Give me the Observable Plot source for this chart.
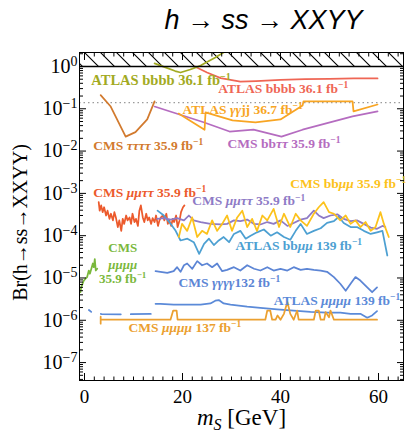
<!DOCTYPE html>
<html><head><meta charset="utf-8">
<script src="https://cdn.jsdelivr.net/npm/d3@7"></script>
<script src="https://cdn.jsdelivr.net/npm/@observablehq/plot@0.6"></script>
<style>
body{margin:0;background:#fff;}
#chart{width:408px;height:435px;}
</style></head><body><div id="chart"></div>
<script>
// ---------- data ----------
const xTicks = [0, 20, 40, 60];
const yTicks = [1e-7, 1e-6, 1e-5, 1e-4, 1e-3, 1e-2, 1e-1, 1];
const xDomain = [-1.02, 65.1];
const yDomain = [3.77e-8, 2.14];
const perturbativeBound = 1;      // hatched region above Br = 1
const exoticBound = 0.14;         // dotted line

const atlasBbbbOliveX = [14.3, 16.5, 18.5, 19.6, 21.6, 23.7, 26.7, 29.8];
const atlasBbbbOliveY = [1.18, 0.95, 0.78, 0.72, 0.85, 1.05, 1.63, 2.7];

const atlasBbbbRedX = [22.5, 25, 27.8, 31.8, 35, 40, 45, 50, 55, 59.8];
const atlasBbbbRedY = [1.0, 0.72, 0.53, 0.44, 0.45, 0.48, 0.5, 0.51, 0.52, 0.52];

const cmsTauTauX = [3.3, 5.3, 8.4, 10.4, 12.8, 14.3];
const cmsTauTauY = [0.21, 0.115, 0.022, 0.028, 0.056, 0.15];

const atlasGGjjX = [19.2, 24.5, 24.7, 30.2, 34.9, 40, 44.5, 44.7, 54.7, 54.9, 59.8];
const atlasGGjjY = [0.077, 0.032, 0.082, 0.053, 0.048, 0.056, 0.12, 0.15, 0.15, 0.087, 0.126];

const cmsBbTauTauX = [14.3, 24.3, 29.6, 34.5, 40.2, 44.5, 54.7, 59.8];
const cmsBbTauTauY = [0.113, 0.048, 0.029, 0.032, 0.022, 0.032, 0.066, 0.087];

const cmsMuMuTauTauLowX = [2.9,3.1,3.4,3.7,4.0,4.4,4.7,5.1,5.4,5.8,6.1,6.4,6.8,7.1,7.5,7.8,8.1,8.5,8.8,9.2,9.5,9.8,10.2,10.5,10.9,11.2,11.5,11.9,12.2,12.6,12.9,13.2,13.6,13.9,14.3,14.6,15.0,15.3,15.6,16.0,16.3,16.7,17.0,17.3,17.7,18.0,18.3,18.7,19.0,19.4,19.7,20.1,20.4];
const cmsMuMuTauTauLowY = [6.2e-4,3.9e-4,5.2e-4,3.6e-4,4.7e-4,3.0e-4,3.9e-4,2.5e-4,3.3e-4,2.3e-4,3.6e-4,2.7e-4,1.6e-4,2.3e-4,1.3e-4,2.5e-4,1.9e-4,3.0e-4,2.3e-4,2.7e-4,1.9e-4,3.3e-4,2.1e-4,2.5e-4,1.7e-4,3.9e-4,5.2e-4,2.7e-4,2.1e-4,3.3e-4,2.3e-4,2.7e-4,1.9e-4,2.6e-4,2.1e-4,3.0e-4,1.7e-4,2.3e-4,2.7e-4,3.0e-4,2.3e-4,3.3e-4,1.9e-4,2.3e-4,1.7e-4,2.5e-4,2.1e-4,3.0e-4,1.6e-4,2.3e-4,3.6e-4,4.7e-4,5.2e-4];

const cmsMuMuTauTauHighX = [14.8,16.2,17.6,18.9,20.3,21.3,22.3,23.7,25.7,27.8,29.1,30.5,31.8,33.2,34.6,35.9,37.3,38.6,40.0,41.4,42.7,44.1,45.4,46.8,47.8,48.8,50.2,51.6,52.9,54.3,55.6,57.0,58.4,59.7,60.8,61.4];
const cmsMuMuTauTauHighY = [2.5e-4,2.6e-4,2.4e-4,2.6e-4,2.3e-4,3.0e-4,2.3e-4,2.1e-4,1.9e-4,1.84e-4,1.9e-4,2.3e-4,2.2e-4,2.4e-4,1.9e-4,1.84e-4,2.1e-4,1.9e-4,2.3e-4,1.7e-4,2.0e-4,2.4e-4,2.6e-4,3.9e-4,3.0e-4,2.6e-4,3.0e-4,3.2e-4,2.5e-4,2.2e-4,2.3e-4,1.9e-4,1.55e-4,1.45e-4,1.7e-4,1.6e-4];

const cmsBbMuMuX = [19.25,19.9,20.95,21.97,23.0,24.0,25.0,26.05,27.07,28.1,29.1,30.1,31.16,32.2,33.2,34.2,35.2,36.3,37.3,38.6,39.7,40.7,42.0,43.1,44.1,45.4,46.8,47.8,48.8,49.9,50.9,52.2,53.3,54.3,55.3,56.3,57.35,58.4,59.4,60.4,61.1,62.1];
const cmsBbMuMuY = [9.3e-5,1.9e-4,1.3e-4,2.7e-4,9.3e-5,1.3e-4,1.1e-4,2.3e-4,1.3e-4,1.9e-4,3.0e-4,1.3e-4,2.7e-4,3.9e-4,1.6e-4,2.5e-4,1.3e-4,3.0e-4,2.3e-4,4.3e-4,1.6e-4,3.3e-4,1.6e-4,3.3e-4,2.3e-4,1.7e-4,3.3e-4,4.7e-4,6.2e-4,3.6e-4,3.3e-4,2.3e-4,3.0e-4,1.9e-4,2.3e-4,1.6e-4,2.1e-4,1.3e-4,1.6e-4,3.6e-4,1.9e-4,9.3e-5];

const atlasBbMuMuX = [14.9,16.2,17.6,18.6,19.6,21.0,22.3,23.4,24.4,25.4,26.4,27.4,28.4,29.5,30.5,31.8,32.9,33.9,35.2,36.6,38.0,39.3,40.7,42.0,43.1,44.1,45.4,46.8,48.2,49.5,50.9,51.9,52.9,54.3,55.6,57.0,58.4,59.7,60.8,61.8];
const atlasBbMuMuY = [3.9e-4,3.0e-4,1.9e-4,1.3e-4,7.7e-5,8.5e-5,7.0e-5,3.7e-5,6.4e-5,8.5e-5,6.0e-5,7.7e-5,9.3e-5,7.0e-5,1.1e-4,1.3e-4,8.5e-5,1.0e-4,1.2e-4,1.4e-4,1.0e-4,1.2e-4,9.3e-5,8.0e-5,1.3e-4,1.9e-4,1.1e-4,1.3e-4,1.5e-4,2.0e-4,2.2e-4,2.8e-4,2.0e-4,1.6e-4,1.6e-4,1.3e-4,1.1e-4,1.2e-4,1.3e-4,3.4e-5];

const cmsGGGGX = [14.5,15.5,16.9,18.2,18.9,19.6,20.3,20.95,22.0,23.0,24.0,25.0,26.05,27.07,28.1,29.1,30.5,31.8,33.2,34.6,35.9,37.3,38.6,40.0,41.4,42.7,44.1,45.4,46.8,48.2,49.5,50.9,52.2,53.3,54.3,55.3,56.3,57.7,58.7,59.7];
const cmsGGGGY = [1.45e-5,1.4e-5,1.32e-5,1.45e-5,1.8e-5,1.4e-5,2.0e-5,2.2e-5,1.65e-5,2.5e-5,2.0e-5,2.2e-5,1.8e-5,2.2e-5,1.45e-5,1.55e-5,1.8e-5,1.5e-5,2.0e-5,1.65e-5,1.5e-5,1.8e-5,1.5e-5,1.65e-5,1.5e-5,1.8e-5,1.55e-5,1.65e-5,1.55e-5,1.5e-5,1.4e-5,1.05e-5,7.3e-6,5.0e-6,7.3e-6,1.05e-5,8.7e-6,6.0e-6,4.6e-6,6.0e-6];

const atlasMuMuMuMuX = [14.5,15.5,18.2,20.95,23.7,25.7,26.7,27.4,28.4,29.8,33.2,35.9,39.3,42.7,46.1,49.5,52.2,54.3,56.3,57.7,58.7,59.7];
const atlasMuMuMuMuY = [2.45e-6,2.45e-6,2.35e-6,2.35e-6,2.35e-6,2.5e-6,2.9e-6,3.0e-6,2.5e-6,2.35e-6,2.1e-6,1.96e-6,1.82e-6,1.7e-6,1.58e-6,1.52e-6,1.52e-6,1.42e-6,1.42e-6,1.15e-6,1.3e-6,1.65e-6];
const atlasMuMuMuMuLowX = [0.9, 1.6, 3.5, 8, 14.2];
const atlasMuMuMuMuLowY = [1.75e-6, 1.5e-6, 1.4e-6, 1.38e-6, 1.42e-6];

const cmsMuMuMuMu137X = [3.3,3.3,3.3,17.55,18.1,18.8,19.0,36.9,37.3,37.9,38.3,39.0,39.4,40.0,40.7,41.4,42.0,42.7,43.4,43.7,46.8,47.2,47.8,48.2,48.9,49.2,49.9,50.2,50.9,59.7];
const cmsMuMuMuMu137Y = [1.22e-6,8.3e-7,1.03e-6,1.03e-6,1.7e-6,1.7e-6,1.03e-6,1.03e-6,1.7e-6,1.7e-6,1.03e-6,1.03e-6,1.3e-6,1.03e-6,1.42e-6,2.7e-6,1.42e-6,1.03e-6,1.7e-6,1.03e-6,1.03e-6,1.7e-6,1.7e-6,1.03e-6,1.03e-6,1.56e-6,1.18e-6,1.7e-6,1.03e-6,1.03e-6];

const cmsMuMuMuMu36X = [-0.82,-0.68,-0.14,0.2,0.54,0.88,1.1,1.4,1.7,1.9,2.1,2.3,2.6];
const cmsMuMuMuMu36Y = [4.6e-6,6.0e-6,8.7e-6,9.6e-6,1.05e-5,1.5e-5,1.26e-5,1.65e-5,2.2e-5,1.8e-5,2.8e-5,1.5e-5,1.65e-5];

// curve labels: text, anchor point (data units), colour
const labelText = [
  "ATLAS bbbb 36.1 fb^{−1}", "ATLAS bbbb 36.1 fb^{−1}", "ATLAS *γγ*jj 36.7 fb^{−1}",
  "CMS *ττττ* 35.9 fb^{−1}", "CMS bb*ττ* 35.9 fb^{−1}", "CMS *μμττ* 35.9 fb^{−1}",
  "CMS *μμττ* 35.9 fb^{−1}", "CMS bb*μμ* 35.9 fb^{−1}", "ATLAS bb*μμ* 139 fb^{−1}",
  "CMS *γγγγ*132 fb^{−1}", "ATLAS *μμμμ* 139 fb^{−1}", "CMS *μμμμ* 137 fb^{−1}"
];
const labelX = [1.4, 27.3, 20, 1.8, 29.2, 1.8, 22.0, 42, 30.8, 19.2, 38.6, 9.0];
const labelY = [0.467, 0.30, 0.096, 0.0136, 0.0151, 1.05e-3, 6.6e-4, 1.71e-3, 5.9e-5, 7.8e-6, 2.9e-6, 6.8e-7];
const labelSize = [14.5, 13.5, 13.5, 13.5, 13.5, 13.5, 13.5, 13.5, 13.5, 13.5, 13.5, 13.5];
const greenLabelLines = ["CMS", "*μμμμ*", "35.9 fb^{−1}"];
const greenLabelY = [5.3e-5, 2.0e-5, 9.6e-6];
const greenLabelX = 7.8;

const C = {
  olive: "#a2aa22", red: "#ef6655", brown: "#d27a2e", orange: "#f8a523",
  purple: "#b56cc0", redOrange: "#ec5a2c", lavender: "#8e7bc6", yellow: "#fcc21b",
  sky: "#4da0d2", blue: "#5c85d5", blue2: "#5b8ad8", gold: "#eba030", green: "#7ab83c"
};
const labelColor = [C.olive, C.red, C.orange, C.brown, C.purple, C.redOrange, C.lavender, C.yellow, C.sky, C.blue, C.blue2, C.gold];

// ---------- helpers ----------
const pts = (xs, ys) => xs.map((x, i) => ({x, y: ys[i]}));
const labels = labelText.map((t, i) => ({t, x: labelX[i], y: labelY[i], c: labelColor[i], s: labelSize[i]}));
const greenLabels = greenLabelLines.map((t, i) => ({t, x: greenLabelX, y: greenLabelY[i]}));

const yMinor = [];
for (let k = -8; k <= 0; k++) for (let m = 2; m <= 9; m++) {
  const v = m * Math.pow(10, k);
  if (v > yDomain[0] && v < yDomain[1]) yMinor.push(v);
}
const xMinor = d3.range(0, 66, 2).filter(v => v % 20 !== 0);

const lineOpts = (color, extra = {}) => ({x: "x", y: "y", stroke: color, strokeWidth: 1.75, clip: true, ...extra});
const serif = "Liberation Serif";
const supFmt = d => `10^{${String(Math.round(Math.log10(d))).replace("-", "−")}}`;

const chart = Plot.plot({
  width: 408, height: 435,
  marginLeft: 79, marginRight: 5, marginTop: 52, marginBottom: 55,
  style: {fontFamily: serif, background: "white", overflow: "visible"},
  x: {domain: xDomain},
  y: {type: "log", domain: yDomain},
  marks: [
    Plot.rect([{x1: xDomain[0], x2: xDomain[1], y1: perturbativeBound, y2: yDomain[1]}], {x1: "x1", x2: "x2", y1: "y1", y2: "y2", fill: "url(#hatch)"}),
    Plot.ruleY([exoticBound], {stroke: "#9b9b9b", strokeWidth: 1.2, strokeDasharray: "1.5,3"}),
    Plot.line(pts(atlasBbbbRedX, atlasBbbbRedY), lineOpts(C.red)),
    Plot.line(pts(cmsTauTauX, cmsTauTauY), lineOpts(C.brown)),
    Plot.line(pts(cmsBbTauTauX, cmsBbTauTauY), lineOpts(C.purple)),
    Plot.line(pts(atlasGGjjX, atlasGGjjY), lineOpts(C.orange)),
    Plot.line(pts(cmsMuMuTauTauLowX, cmsMuMuTauTauLowY), lineOpts(C.redOrange)),
    Plot.line(pts(atlasBbMuMuX, atlasBbMuMuY), lineOpts(C.sky)),
    Plot.line(pts(cmsMuMuTauTauHighX, cmsMuMuTauTauHighY), lineOpts(C.lavender)),
    Plot.line(pts(cmsBbMuMuX, cmsBbMuMuY), lineOpts(C.yellow)),
    Plot.line(pts(cmsGGGGX, cmsGGGGY), lineOpts(C.blue)),
    Plot.line(pts(atlasMuMuMuMuX, atlasMuMuMuMuY), lineOpts(C.blue2)),
    Plot.line(pts(atlasMuMuMuMuLowX, atlasMuMuMuMuLowY), lineOpts(C.blue2, {strokeDasharray: "20,10", strokeDashoffset: 17})),
    Plot.line(pts(cmsMuMuMuMu137X, cmsMuMuMuMu137Y), lineOpts(C.gold)),
    Plot.line(pts(cmsMuMuMuMu36X, cmsMuMuMuMu36Y), lineOpts(C.green)),
    Plot.line(pts(atlasBbbbOliveX, atlasBbbbOliveY), lineOpts(C.olive)),
    Plot.ruleY([perturbativeBound], {stroke: "black", strokeWidth: 1.6}),
    Plot.frame({stroke: "black", strokeWidth: 1}),
    // curve labels
    Plot.text(labels, {x: "x", y: "y", text: "t", fill: "c", fontSize: "s", textAnchor: "start", fontWeight: "bold", fontFamily: serif}),
    Plot.text(greenLabels, {x: "x", y: "y", text: "t", fill: C.green, textAnchor: "middle", fontSize: 13, fontWeight: "bold", fontFamily: serif}),
    // axes: labels
    Plot.axisX(xTicks, {anchor: "bottom", tickSize: 0, tickPadding: 9, fontSize: 19, label: null}),
    Plot.axisY(yTicks, {anchor: "left", tickSize: 0, tickPadding: 2, fontSize: 20, tickFormat: supFmt, label: null}),
    // axes: inward ticks
    Plot.axisX(xTicks, {anchor: "bottom", tickSize: -7, tickFormat: () => "", label: null}),
    Plot.axisX(xMinor, {anchor: "bottom", tickSize: -3.5, tickFormat: () => "", label: null}),
    Plot.axisX(xTicks, {anchor: "top", tickSize: -7, tickFormat: () => "", label: null}),
    Plot.axisX(xMinor, {anchor: "top", tickSize: -3.5, tickFormat: () => "", label: null}),
    Plot.axisY(yTicks, {anchor: "left", tickSize: -7, tickFormat: () => "", label: null}),
    Plot.axisY(yMinor, {anchor: "left", tickSize: -4, tickFormat: () => "", label: null}),
    Plot.axisY(yTicks, {anchor: "right", tickSize: -7, tickFormat: () => "", label: null}),
    Plot.axisY(yMinor, {anchor: "right", tickSize: -4, tickFormat: () => "", label: null}),
    // titles
    Plot.text(["h → ss → XXYY"], {frameAnchor: "top", textAnchor: "middle", lineAnchor: "middle", dx: 22, dy: -32, fontSize: 27, fontStyle: "italic", fontFamily: "Liberation Sans", fill: "black"}),
    Plot.text(["Br(h→ss→XXYY)"], {frameAnchor: "left", textAnchor: "middle", lineAnchor: "middle", rotate: -90, dx: -59, dy: 6, fontSize: 20, fontFamily: serif, fill: "black"}),
    Plot.text(["*m*_{S} [GeV]"], {frameAnchor: "bottom", textAnchor: "middle", lineAnchor: "middle", dy: 37, fontSize: 23, fontFamily: serif, fill: "black"})
  ]
});

// hatch pattern
const ns = "http://www.w3.org/2000/svg";
const defs = document.createElementNS(ns, "defs");
defs.innerHTML = `<pattern id="hatch" patternUnits="userSpaceOnUse" width="16" height="16"><path d="M0,0L16,16M-4,12L4,20M12,-4L20,4" stroke="black" stroke-width="1.1"/></pattern>`;
chart.insertBefore(defs, chart.firstChild);

// rich text: *italic*, ^{sup}, _{sub}
function rich(el) {
  const s = el.textContent;
  if (!/[\^*_]/.test(s)) return;
  const parts = s.split(/(\^\{[^}]*\}|_\{[^}]*\}|\*[^*]*\*)/).filter(p => p);
  el.textContent = "";
  let shift = 0;
  for (const p of parts) {
    const t = document.createElementNS(ns, "tspan");
    if (p.startsWith("^{") || p.startsWith("_{")) {
      const up = p[0] === "^";
      t.textContent = p.slice(2, -1);
      t.setAttribute("font-size", "70%");
      t.setAttribute("dy", (up ? -0.5 : 0.3) + "em");
      if (!up) t.setAttribute("font-style", "italic");
      shift = up ? 0.35 : -0.21;
    } else {
      if (p.startsWith("*")) { t.textContent = p.slice(1, -1); t.setAttribute("font-style", "italic"); }
      else t.textContent = p;
      if (shift) { t.setAttribute("dy", shift + "em"); shift = 0; }
    }
    el.appendChild(t);
  }
}
chart.querySelectorAll("text").forEach(rich);
document.getElementById("chart").appendChild(chart);
</script></body></html>
